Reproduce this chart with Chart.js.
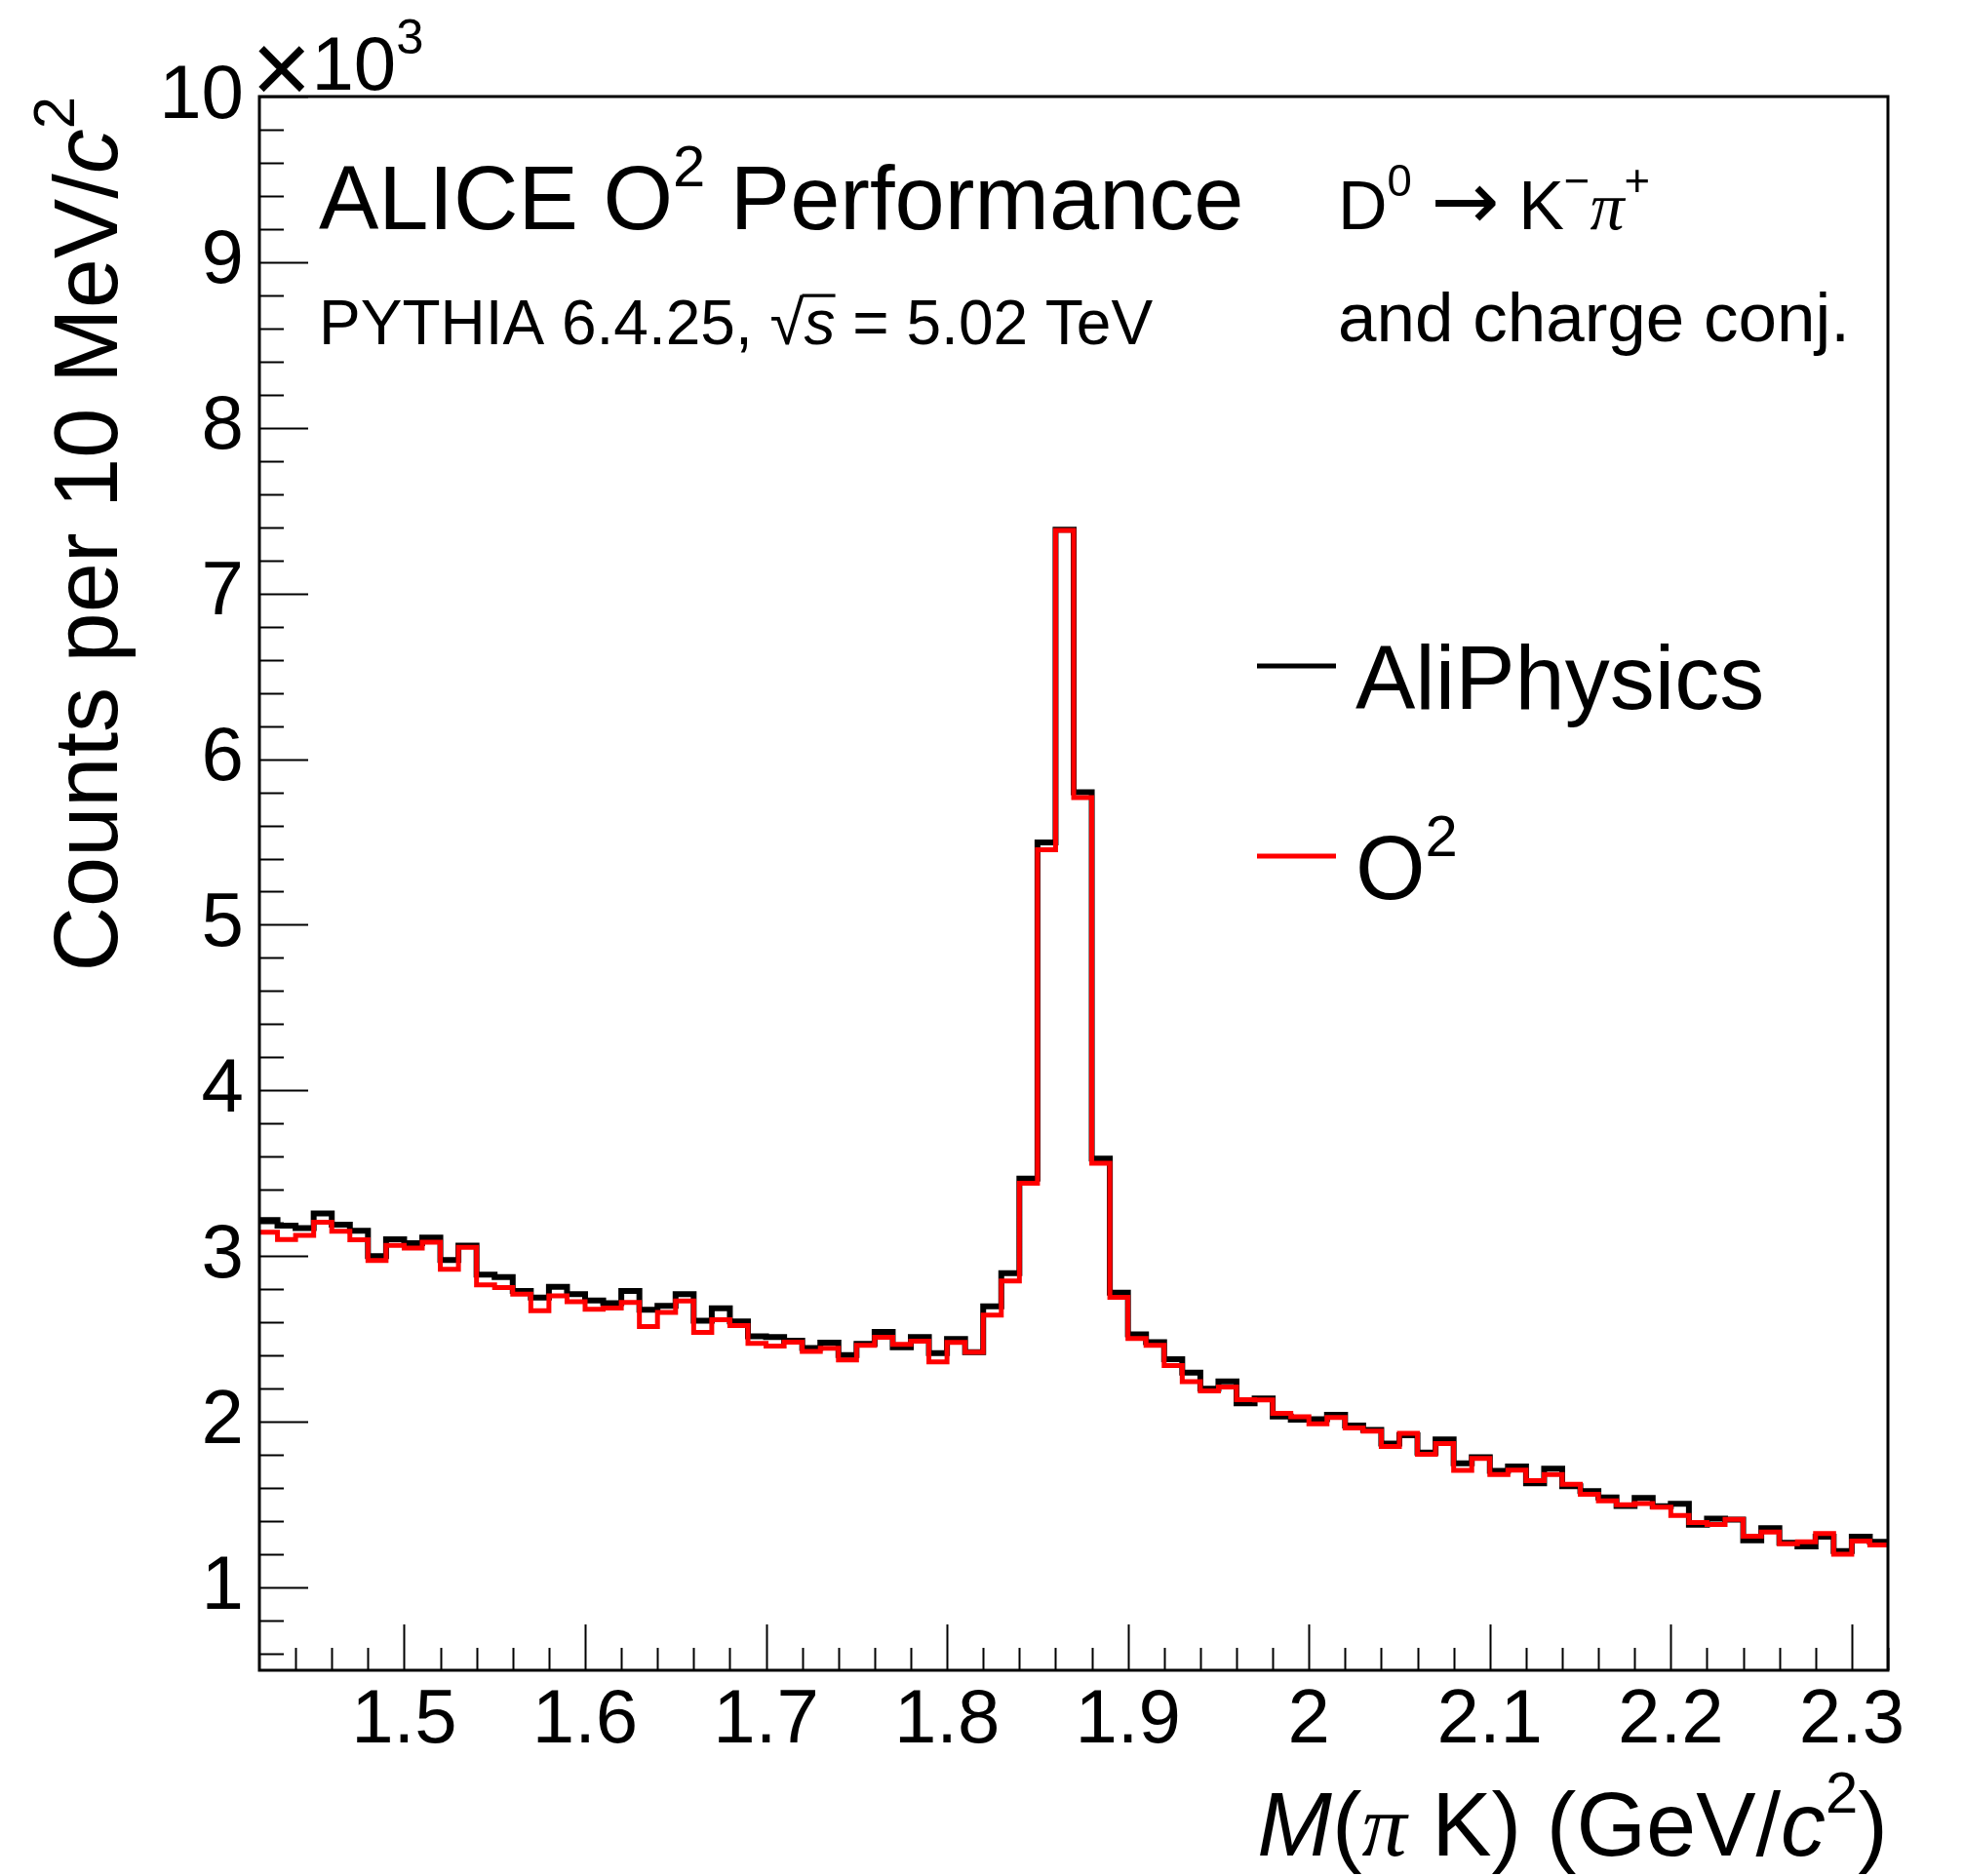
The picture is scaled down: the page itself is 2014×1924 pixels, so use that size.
<!DOCTYPE html>
<html>
<head>
<meta charset="utf-8">
<script src="https://cdn.jsdelivr.net/npm/chart.js@4.4.1/dist/chart.umd.min.js"></script>
<style>
  html, body { margin: 0; padding: 0; background: #fff; }
  #wrap { width: 2014px; height: 1924px; position: relative; }
</style>
</head>
<body>
<div id="wrap"><canvas id="graph"></canvas></div>
<script>
// histogram binning: 10 MeV bins from 1.42 to 2.32 GeV/c2
const binLow = 1.42;
const binWidth = 0.01;

// counts per bin
const aliPhysics = [
  3218, 3184, 3170, 3257, 3190, 3153, 3000, 3102, 3078, 3112,
  2976, 3063, 2888, 2873, 2790, 2750, 2814, 2770, 2733, 2716,
  2790, 2676, 2700, 2770, 2610, 2685, 2606, 2516, 2512, 2490,
  2445, 2477, 2402, 2470, 2542, 2450, 2512, 2414, 2500, 2420,
  2697, 2897, 3468, 5497, 7385, 5800, 3588, 2780, 2528, 2481,
  2377, 2297, 2200, 2244, 2112, 2140, 2032, 2012, 2016, 2042,
  1977, 1951, 1869, 1918, 1814, 1894, 1749, 1786, 1704, 1730,
  1629, 1717, 1611, 1582, 1543, 1492, 1541, 1490, 1505, 1378,
  1415, 1410, 1285, 1358, 1270, 1248, 1307, 1219, 1307, 1276
];
const o2 = [
  3145, 3100, 3125, 3204, 3150, 3098, 2973, 3065, 3049, 3084,
  2920, 3053, 2827, 2810, 2770, 2670, 2760, 2725, 2680, 2686,
  2720, 2575, 2660, 2730, 2540, 2616, 2581, 2473, 2457, 2480,
  2424, 2444, 2373, 2461, 2510, 2467, 2487, 2361, 2479, 2420,
  2644, 2850, 3440, 5453, 7380, 5768, 3560, 2752, 2503, 2462,
  2340, 2242, 2187, 2210, 2134, 2132, 2051, 2030, 1987, 2026,
  1963, 1943, 1851, 1930, 1804, 1869, 1706, 1778, 1682, 1708,
  1645, 1682, 1623, 1562, 1523, 1499, 1507, 1484, 1435, 1391,
  1380, 1411, 1309, 1334, 1264, 1276, 1325, 1200, 1280, 1256
];

const xMajorTicks = [1.5, 1.6, 1.7, 1.8, 1.9, 2.0, 2.1, 2.2, 2.3];
const yMajorTicks = [1000, 2000, 3000, 4000, 5000, 6000, 7000, 8000, 9000, 10000];

const FONT = '"Liberation Sans", Arial, sans-serif';
const SERIF = '"Liberation Serif", "Times New Roman", serif';
const SYMBOL = '"DejaVu Sans", sans-serif';

function histPoints(counts){
  const pts = counts.map((c, i) => ({ x: +(binLow + i * binWidth).toFixed(2), y: c }));
  pts.push({ x: +(binLow + counts.length * binWidth).toFixed(2), y: counts[counts.length - 1] });
  return pts;
}

// draw a line of text made of runs (italic / superscript / serif / overline / size factor k)
function richText(ctx, runs, x, y, size, align){
  const items = runs.map(r => {
    const sz = (r.sup ? size * 0.65 : size) * (r.k || 1);
    const fam = r.sym ? SYMBOL : (r.serif ? SERIF : FONT);
    const font = (r.it ? 'italic ' : '') + sz + 'px ' + fam;
    ctx.font = font;
    return { r, font, w: ctx.measureText(r.t).width, dy: (r.sup ? -size * 0.48 : 0) + (r.dy || 0) };
  });
  const total = items.reduce((s, it) => s + it.w, 0);
  let cx = align === 'right' ? x - total : x;
  items.forEach(it => {
    ctx.font = it.font;
    ctx.fillText(it.r.t, cx, y + it.dy);
    if (it.r.over){
      ctx.lineWidth = size * 0.05;
      ctx.beginPath();
      ctx.moveTo(cx - 2, y - size * 0.78);
      ctx.lineTo(cx + it.w, y - size * 0.78);
      ctx.stroke();
    }
    cx += it.w;
  });
}

const rootStyle = {
  id: 'rootStyle',
  beforeDatasetsDraw(chart){
    const { ctx, chartArea: a, scales: { x, y } } = chart;
    ctx.save();
    ctx.strokeStyle = '#000';
    ctx.lineWidth = 2;
    ctx.beginPath();
    for (let v = 600; v <= 10000; v += 200){
      const py = Math.round(y.getPixelForValue(v)) + 0.5;
      const len = v % 1000 === 0 ? 50 : 25;
      ctx.moveTo(a.left, py);
      ctx.lineTo(a.left + len, py);
    }
    for (let i = 0; i <= 44; i++){
      const v = 1.44 + 0.02 * i;
      const major = Math.abs(v * 10 - Math.round(v * 10)) < 1e-6;
      const px = Math.round(x.getPixelForValue(v)) + 0.5;
      ctx.moveTo(px, a.bottom);
      ctx.lineTo(px, a.bottom - (major ? 47 : 23));
    }
    ctx.stroke();
    ctx.restore();
  },
  afterDraw(chart){
    const { ctx, chartArea: a } = chart;
    ctx.save();
    // frame
    ctx.strokeStyle = '#000';
    ctx.lineWidth = 3;
    ctx.strokeRect(a.left, a.top, a.right - a.left, a.bottom - a.top);

    ctx.fillStyle = '#000';
    ctx.strokeStyle = '#000';
    ctx.textBaseline = 'alphabetic';

    // x10^3 multiplier
    richText(ctx, [{ t: '\u00d7', k: 1.35, dy: 14 }, { t: '10' }, { t: '3', sup: true }], 258, 92, 78, 'left');

    // y axis title (rotated)
    ctx.save();
    ctx.translate(120, a.top);
    ctx.rotate(-Math.PI / 2);
    richText(ctx, [{ t: 'Counts per 10 MeV/' }, { t: 'c', it: true }, { t: '2', sup: true }], 0, 0, 92, 'right');
    ctx.restore();

    // x axis title
    richText(ctx, [{ t: 'M', it: true }, { t: '(' }, { t: '\u03c0', serif: true, it: true }, { t: ' K) (GeV/' },
      { t: 'c', it: true }, { t: '2', sup: true }, { t: ')' }], a.right, 1903, 92, 'right');

    // labels in the pad
    richText(ctx, [{ t: 'ALICE O' }, { t: '2', sup: true }, { t: ' Performance' }], 327, 235, 92, 'left');
    richText(ctx, [{ t: 'PYTHIA 6.4.25, \u221a' }, { t: 's', it: true, over: true }, { t: ' = 5.02 TeV' }], 327, 353, 64, 'left');
    richText(ctx, [{ t: 'D' }, { t: '0', sup: true }, { t: ' ' }, { t: '\u2192', sym: true, k: 1.2 }, { t: ' K' },
      { t: '\u2212', sup: true }, { t: '\u03c0', serif: true, it: true }, { t: '+', sup: true }], 1372, 235, 70, 'left');
    richText(ctx, [{ t: 'and charge conj.' }], 1372, 350, 71, 'left');

    // legend
    const ds = chart.data.datasets;
    const legendRows = [
      { y: 683, color: ds[0].borderColor, runs: [{ t: ds[0].label }], base: 727 },
      { y: 878, color: ds[1].borderColor, runs: [{ t: 'O' }, { t: '2', sup: true }], base: 922 }
    ];
    legendRows.forEach(row => {
      ctx.strokeStyle = row.color;
      ctx.lineWidth = 5;
      ctx.beginPath();
      ctx.moveTo(1289, row.y);
      ctx.lineTo(1370, row.y);
      ctx.stroke();
      ctx.strokeStyle = '#000';
      richText(ctx, row.runs, 1390, row.base, 92, 'left');
    });
    ctx.restore();
  }
};

new Chart(document.getElementById('graph'), {
  type: 'line',
  data: {
    datasets: [
      {
        label: 'AliPhysics',
        data: histPoints(aliPhysics),
        borderColor: '#000000',
        borderWidth: 6,
        stepped: true,
        pointRadius: 0,
        fill: false,
        order: 1
      },
      {
        label: 'O2',
        data: histPoints(o2),
        borderColor: '#ff0000',
        borderWidth: 5,
        stepped: true,
        pointRadius: 0,
        fill: false,
        order: 0
      }
    ]
  },
  options: {
    responsive: true,
    maintainAspectRatio: false,
    animation: false,
    layout: { padding: { left: 0, top: 99, right: 78, bottom: 0 } },
    plugins: { legend: { display: false }, tooltip: { enabled: false } },
    scales: {
      x: {
        type: 'linear',
        min: 1.42,
        max: 2.32,
        grid: { display: false, drawTicks: false },
        border: { display: false },
        afterBuildTicks: s => { s.ticks = xMajorTicks.map(v => ({ value: v })); },
        afterFit: s => { s.height = 211; },
        ticks: {
          color: '#000',
          font: { family: FONT, size: 78 },
          padding: 6,
          maxRotation: 0,
          autoSkip: false,
          callback: v => String(+Number(v).toFixed(1))
        }
      },
      y: {
        type: 'linear',
        min: 500,
        max: 10000,
        grid: { display: false, drawTicks: false },
        border: { display: false },
        afterBuildTicks: s => { s.ticks = yMajorTicks.map(v => ({ value: v })); },
        afterFit: s => { s.width = 266; },
        ticks: {
          color: '#000',
          font: { family: FONT, size: 78 },
          padding: 16,
          autoSkip: false,
          callback: v => String(v / 1000)
        }
      }
    }
  },
  plugins: [rootStyle]
});
</script>
</body>
</html>
